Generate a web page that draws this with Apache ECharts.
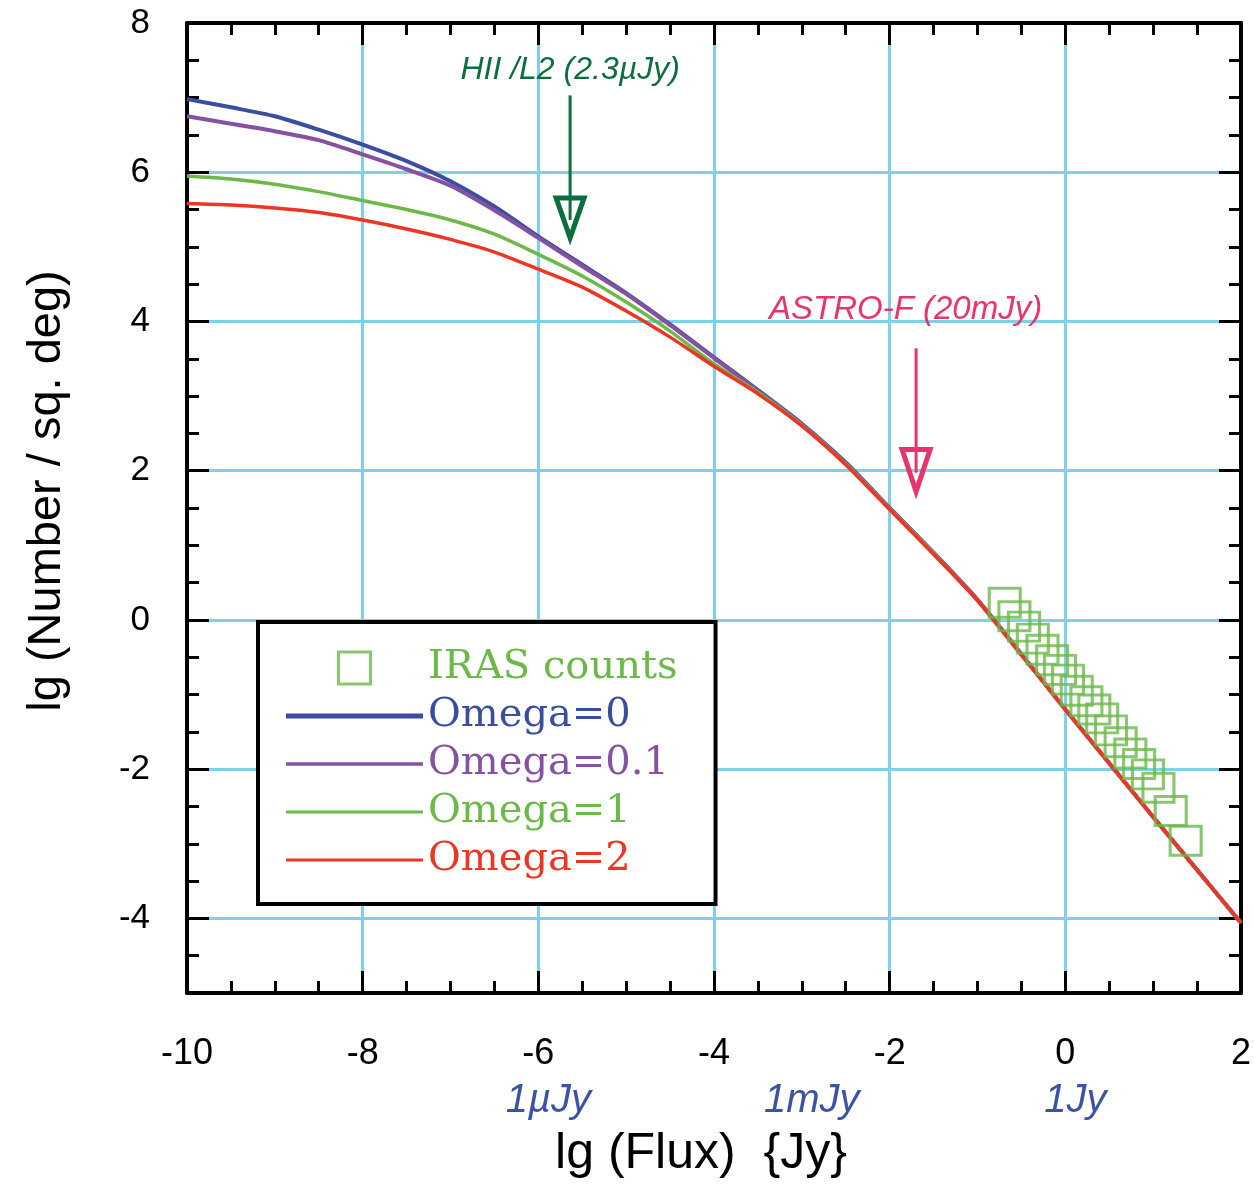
<!DOCTYPE html>
<html>
<head>
<meta charset="utf-8">
<script src="https://cdn.jsdelivr.net/npm/echarts@6/dist/echarts.min.js"></script>
<style>
  html, body { margin: 0; padding: 0; background: #ffffff; }
  #chart { width: 1254px; height: 1188px; }
</style>
</head>
<body>
<div id="chart"></div>
<script>
// lg flux grid (Jy) shared by the model source-count curves
const lgFlux = [-10, -9.5, -9, -8.5, -8, -7.5, -7, -6.5, -6, -5.5, -5, -4.5, -4,
                -3.5, -3, -2.5, -2, -1.5, -1, -0.5, 0, 0.5, 1, 1.5, 2];

// lg N(>S) per square degree for each cosmology
const omega0  = [6.98, 6.87, 6.75, 6.57, 6.37, 6.15, 5.88, 5.54, 5.14, 4.76, 4.38, 3.96, 3.52,
                 3.08, 2.63, 2.11, 1.50, 0.90, 0.27, -0.46, -1.20, -1.92, -2.64, -3.35, -4.06];
const omega01 = [6.75, 6.65, 6.55, 6.43, 6.24, 6.04, 5.82, 5.49, 5.12, 4.74, 4.37, 3.95, 3.51,
                 3.07, 2.62, 2.10, 1.50, 0.90, 0.27, -0.46, -1.20, -1.92, -2.64, -3.35, -4.06];
const omega1  = [5.95, 5.91, 5.84, 5.74, 5.62, 5.50, 5.36, 5.17, 4.90, 4.61, 4.26, 3.87, 3.43,
                 3.05, 2.61, 2.09, 1.49, 0.89, 0.26, -0.47, -1.20, -1.92, -2.64, -3.35, -4.06];
const omega2  = [5.58, 5.56, 5.52, 5.46, 5.36, 5.24, 5.10, 4.93, 4.70, 4.46, 4.14, 3.79, 3.40,
                 3.03, 2.60, 2.08, 1.48, 0.88, 0.26, -0.47, -1.20, -1.92, -2.64, -3.35, -4.06];

// IRAS counts
const irasFlux   = [-0.69, -0.58, -0.47, -0.37, -0.26, -0.15, -0.06, 0.03, 0.13, 0.24,
                     0.33, 0.42, 0.52, 0.63, 0.74, 0.84, 0.94, 1.06, 1.20, 1.37];
const irasCounts = [0.23, 0.05, -0.09, -0.25, -0.40, -0.54, -0.67, -0.80, -0.95, -1.09,
                    -1.20, -1.32, -1.48, -1.64, -1.79, -1.93, -2.07, -2.25, -2.56, -2.96];

// axis ticks
const xMajorTicks = [-10, -8, -6, -4, -2, 0, 2];
const yMajorTicks = [-4, -2, 0, 2, 4, 6, 8];

// flux unit markers below the x axis
const unitNames = ['1µJy', '1mJy', '1Jy'];
const unitFluxJy = [1e-6, 1e-3, 1];

// survey detection limits
const limitNames = ['HII /L2 (2.3µJy)', 'ASTRO-F (20mJy)'];
const limitFluxJy = [2.3e-6, 0.02];

const seriesNames = ['IRAS counts', 'Omega=0', 'Omega=0.1', 'Omega=1', 'Omega=2'];

const COL = {
  blue: '#3a4da0', purple: '#8651a0', green: '#6cb94a', red: '#ee3524',
  grid: '#7fd0ea', hii: '#0c6e3c', astro: '#e8336b', unit: '#3c52a6'
};

const chart = echarts.init(document.getElementById('chart'), null, { renderer: 'canvas' });

function pairs(xs, ys) { return xs.map((x, i) => [x, ys[i]]); }

const axisLine = { show: true, onZero: false, lineStyle: { color: '#000', width: 4 } };
const noLine = { show: false, onZero: false };
const longTick = { show: true, inside: true, length: 22, lineStyle: { color: '#000', width: 3 } };
const shortTick = { show: true, inside: true, length: 12, lineStyle: { color: '#000', width: 3 } };
const minorX = { show: true, splitNumber: 4, length: 12, lineStyle: { color: '#000', width: 3 } };
const sans = '"Liberation Sans", Arial, sans-serif';

function curve(name, values, color, width) {
  return {
    name, type: 'line', data: pairs(lgFlux, values), symbol: 'none', smooth: 0.25,
    lineStyle: { color, width }, itemStyle: { color }, z: 3
  };
}

// legend swatch: a flat bar for the model curves
function barIcon(h) { return 'path://M0,0 L137,0 L137,' + h + ' L0,' + h + ' Z'; }

const option = {
  animation: false,
  backgroundColor: '#ffffff',
  grid: { left: 187, right: 9, top: 23, bottom: 195, containLabel: false },
  xAxis: [
    {
      type: 'value', position: 'bottom', min: -10, max: 2, interval: 2,
      axisLine, axisTick: longTick, minorTick: minorX,
      axisLabel: { margin: 43, customValues: xMajorTicks, fontFamily: sans, fontSize: 36, color: '#000' },
      splitLine: { show: true, lineStyle: { color: COL.grid, width: 3 } },
      name: 'lg (Flux)  {Jy}', nameLocation: 'middle', nameGap: 136,
      nameTextStyle: { fontFamily: sans, fontSize: 50, color: '#000', padding: [0, 26, 0, 0] }
    },
    {
      type: 'value', position: 'top', min: -10, max: 2, interval: 2,
      axisLine, axisTick: longTick, minorTick: minorX,
      axisLabel: { show: false }, splitLine: { show: false }
    }
  ],
  yAxis: [
    {
      type: 'value', position: 'left', min: -5, max: 8, interval: 1,
      axisLine,
      axisTick: Object.assign({ customValues: yMajorTicks }, longTick),
      axisLabel: { margin: 37, customValues: yMajorTicks, fontFamily: sans, fontSize: 35, color: '#000' },
      splitLine: { show: true, lineStyle: { color: COL.grid, width: 3 } },
      name: 'lg (Number / sq. deg)', nameLocation: 'middle', nameGap: 116, nameRotate: 90,
      nameTextStyle: { fontFamily: sans, fontSize: 47, color: '#000', padding: [0, 0, 0, 34] }
    },
    {
      type: 'value', position: 'left', min: -5, max: 8, interval: 0.5,
      axisLine: noLine, axisTick: shortTick,
      axisLabel: { show: false }, splitLine: { show: false }
    },
    {
      type: 'value', position: 'right', min: -5, max: 8, interval: 1,
      axisLine,
      axisTick: Object.assign({ customValues: yMajorTicks }, longTick),
      axisLabel: { show: false }, splitLine: { show: false }
    },
    {
      type: 'value', position: 'right', min: -5, max: 8, interval: 0.5,
      axisLine: noLine, axisTick: shortTick,
      axisLabel: { show: false }, splitLine: { show: false }
    }
  ],
  legend: {
    orient: 'vertical', left: 258, top: 622,
    padding: [26, 38, 24, 28],
    itemWidth: 137, itemHeight: 32, itemGap: 8,
    symbolKeepAspect: true,
    backgroundColor: '#ffffff', borderColor: '#000', borderWidth: 4, borderRadius: 0,
    selectedMode: false,
    textStyle: { fontFamily: '"DejaVu Serif", "Liberation Serif", serif', fontSize: 40 },
    data: [
      { name: seriesNames[0], icon: 'path://M0,0 L10,0 L10,10 L0,10 Z',
        itemStyle: { color: 'transparent', borderColor: COL.green, borderWidth: 3 },
        textStyle: { color: COL.green } },
      { name: seriesNames[1], icon: barIcon(5),
        itemStyle: { color: COL.blue, borderWidth: 0 }, textStyle: { color: COL.blue } },
      { name: seriesNames[2], icon: barIcon(3.5),
        itemStyle: { color: COL.purple, borderWidth: 0 }, textStyle: { color: COL.purple } },
      { name: seriesNames[3], icon: barIcon(3),
        itemStyle: { color: COL.green, borderWidth: 0 }, textStyle: { color: COL.green } },
      { name: seriesNames[4], icon: barIcon(3),
        itemStyle: { color: COL.red, borderWidth: 0 }, textStyle: { color: COL.red } }
    ]
  },
  series: [
    curve(seriesNames[1], omega0, COL.blue, 4),
    curve(seriesNames[2], omega01, COL.purple, 4),
    curve(seriesNames[3], omega1, COL.green, 3.5),
    curve(seriesNames[4], omega2, COL.red, 3.5),
    {
      name: seriesNames[0], type: 'scatter', data: pairs(irasFlux, irasCounts),
      symbol: 'rect', symbolSize: [31, 29], z: 4,
      itemStyle: { color: 'transparent', borderColor: COL.green, borderWidth: 3 }
    }
  ]
};

chart.setOption(option);

// annotations placed through the axis scales
function toPx(x, y) { return chart.convertToPixel({ gridIndex: 0 }, [x, y]); }

function arrowTo(lgx, yStart, yTip, headLen, color) {
  const a = toPx(lgx, yStart), b = toPx(lgx, yTip);
  const hw = 14;
  return [
    { type: 'line', z: 10,
      shape: { x1: a[0], y1: a[1], x2: b[0], y2: b[1] - headLen * 0.45 },
      style: { stroke: color, lineWidth: 3 } },
    { type: 'polygon', z: 10,
      shape: { points: [[b[0] - hw, b[1] - headLen], [b[0] + hw, b[1] - headLen], [b[0], b[1]]] },
      style: { fill: 'none', stroke: color, lineWidth: 5, lineJoin: 'miter' } }
  ];
}

function note(text, lgx, y, color, size) {
  const p = toPx(lgx, y);
  return { type: 'text', z: 10, x: p[0], y: p[1],
    style: { text, fill: color, align: 'center', verticalAlign: 'middle',
      font: 'italic ' + size + 'px ' + sans } };
}

const lgHII = Math.log10(limitFluxJy[0]);
const lgAstro = Math.log10(limitFluxJy[1]);
const gridBottom = toPx(0, -5)[1];

const graphics = []
  .concat(arrowTo(lgHII, 7.03, 5.12, 40, COL.hii))
  .concat(arrowTo(lgAstro, 3.64, 1.72, 42, COL.astro))
  .concat([
    note(limitNames[0], lgHII, 7.37, COL.hii, 32),
    note(limitNames[1], lgAstro - 0.12, 4.15, COL.astro, 33)
  ]);

unitNames.forEach((t, i) => {
  const x = toPx(Math.log10(unitFluxJy[i]), 0)[0];
  graphics.push({ type: 'text', z: 10, x: x + 10, y: gridBottom + 108,
    style: { text: t, fill: COL.unit, align: 'center', verticalAlign: 'middle',
      font: 'italic 40px ' + sans } });
});

chart.setOption({ graphic: graphics });
</script>
</body>
</html>
